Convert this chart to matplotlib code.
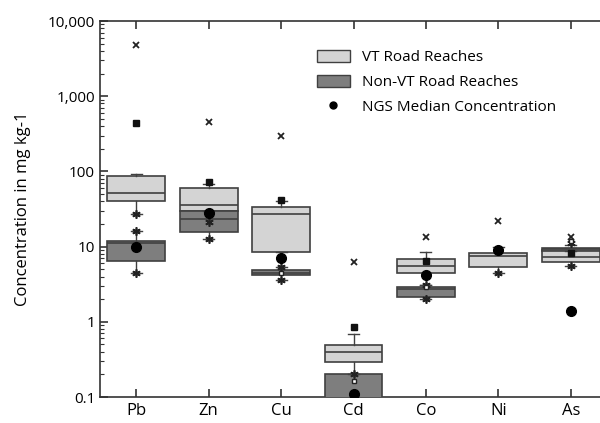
import matplotlib
matplotlib.use('Agg')
import matplotlib.pyplot as plt
import matplotlib.ticker as mticker
from matplotlib.patches import Patch
from matplotlib.lines import Line2D
import numpy as np

plt.rcParams['font.family'] = ['Open Sans', 'DejaVu Sans']
plt.rcParams['font.size'] = 11

elements = ['Pb', 'Zn', 'Cu', 'Cd', 'Co', 'Ni', 'As']

# VT road reaches: q1, median, q3, lower whisker, upper whisker
vt_q1 = [40, 30, 8.6, 0.29, 4.5, 5.4, 6.3]
vt_med = [52, 36, 27.5, 0.40, 5.6, 7.6, 7.3]
vt_q3 = [86, 61, 34, 0.49, 6.9, 8.1, 9.1]
vt_lo = [27, 30, 8.6, 0.2, 3.1, 4.5, 5.6]
vt_hi = [93, 68, 41, 0.69, 8.6, 10, 10.6]
vt_stars = [[27], [], [5.4], [0.2], [3.1], [4.5], [11, 5.6]]
vt_fill_sq = [[437], [73], [42], [0.86], [6.5], [], [8.1]]
vt_open_sq = [[], [], [], [0.163], [2.9], [], [12]]
vt_x = [[4800], [450], [293], [6.3], [13.5], [22], [13.5]]

# Non-VT road reaches (no data for Ni)
nv_q1 = [6.5, 15.4, 4.2, 0.08, 2.15, None, 8.8]
nv_med = [11, 23, 4.5, 0.09, 2.7, None, 9.2]
nv_q3 = [12, 30, 4.9, 0.2, 2.9, None, 9.5]
nv_lo = [4.4, 12.7, 3.6, 0.08, 2.0, None, 8.8]
nv_hi = [16, 30, 5.4, 0.2, 3.1, None, 9.5]
nv_stars = [[16, 4.4], [21, 12.7], [3.6], [], [2.0], [], []]
nv_open_sq = [[], [], [4.5], [], [], [], []]

ngs_median = [10, 28, 7.1, 0.11, 4.2, 9.1, 1.4]

VT_COL = '#d4d4d4'
NV_COL = '#7e7e7e'
EDGE = '#404040'

fig = plt.figure(figsize=(6, 4.23), dpi=100)
ax = fig.add_axes([100 / 600, 26 / 423, 507 / 600, 376 / 423])
ax.set_yscale('log')

pos = np.arange(1, len(elements) + 1)


def stats(q1, med, q3, lo, hi):
    out, p = [], []
    for i in range(len(q1)):
        if q1[i] is None:
            continue
        out.append(dict(med=med[i], q1=q1[i], q3=q3[i],
                        whislo=lo[i], whishi=hi[i], fliers=[]))
        p.append(pos[i])
    return out, p


def draw(st, p, col, z):
    ax.bxp(st, positions=p, widths=0.8, patch_artist=True,
           showfliers=False, capwidths=0.15, manage_ticks=False,
           boxprops=dict(facecolor=col, edgecolor=EDGE, linewidth=1.2),
           medianprops=dict(color=EDGE, linewidth=1.2),
           whiskerprops=dict(color=EDGE, linewidth=1),
           capprops=dict(color=EDGE, linewidth=1), zorder=z)


st, p = stats(vt_q1, vt_med, vt_q3, vt_lo, vt_hi)
draw(st, p, VT_COL, 2)
st, p = stats(nv_q1, nv_med, nv_q3, nv_lo, nv_hi)
draw(st, p, NV_COL, 3)

star = (6, 2, 0)
for i, x0 in enumerate(pos):
    for v in vt_stars[i] + nv_stars[i]:
        ax.plot(x0, v, marker=star, ms=6, color='#222222', mew=1.2, zorder=5)
    for v in vt_fill_sq[i]:
        ax.plot(x0, v, marker='s', ms=4, color='#111111', zorder=5)
    for v in vt_open_sq[i] + nv_open_sq[i]:
        ax.plot(x0, v, marker='s', ms=3.5, mfc='white', mec='#222222', mew=1, zorder=5)
    for v in vt_x[i]:
        ax.plot(x0, v, marker='x', ms=4, color='#222222', mew=1.3, zorder=5)

ax.plot(pos, ngs_median, 'o', ms=7, color='black', linestyle='none', zorder=6)

ax.set_xlim(0.5, 7.5)
ax.set_ylim(0.1, 10000)
ax.set_xticks(pos)
ax.set_xticklabels(elements, fontsize=12)
ax.yaxis.set_major_locator(mticker.LogLocator(base=10))
ax.yaxis.set_minor_locator(mticker.LogLocator(base=10, subs=np.arange(2, 10)))
ax.yaxis.set_minor_formatter(mticker.NullFormatter())
ax.set_yticks([0.1, 1, 10, 100, 1000, 10000])
ax.set_yticklabels(['0.1', '1', '10', '100', '1,000', '10,000'], fontsize=11)
ax.tick_params(axis='both', which='major', direction='in', length=6, width=1.2,
               top=True, right=False, color='#333333')
ax.tick_params(axis='y', which='minor', direction='in', length=3, width=0.8,
               right=False, color='#333333')
ax.tick_params(axis='x', pad=4)
for s in ax.spines.values():
    s.set_linewidth(1.2)
    s.set_color('#333333')

ax.set_ylabel('Concentration in mg kg-1', fontsize=12, labelpad=12)

handles = [Patch(facecolor=VT_COL, edgecolor=EDGE, label='VT Road Reaches'),
           Patch(facecolor=NV_COL, edgecolor=EDGE, label='Non-VT Road Reaches'),
           Line2D([], [], marker='o', ms=5, color='black', linestyle='none',
                  label='NGS Median Concentration')]
ax.legend(handles=handles, loc='upper left', bbox_to_anchor=(0.4, 0.96),
          frameon=False, fontsize=11, handlelength=2.2, handleheight=0.9,
          labelspacing=0.6)

fig.savefig('out.png', dpi=100)
